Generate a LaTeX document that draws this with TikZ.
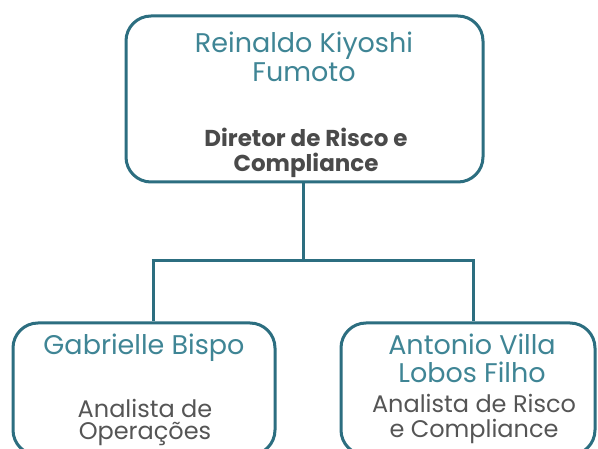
\documentclass[tikz,border=0pt]{standalone}
\usepackage{fontspec}
\setmainfont{Poppins}
\definecolor{edge}{HTML}{2C6E80}
\definecolor{namec}{HTML}{3F8595}
\definecolor{titlec}{HTML}{4A4A4A}
\definecolor{subc}{HTML}{555555}
\begin{document}
\begin{tikzpicture}[x=1pt,y=1pt,
  box/.style={draw=edge,line width=3pt,rounded corners=25pt,inner sep=0pt},
  conn/.style={draw=edge,line width=3pt},
  nametxt/.style={text=namec,font=\fontsize{27}{30}\selectfont,anchor=base,inner sep=0pt},
  titletxt/.style={text=titlec,font=\fontsize{23}{27}\selectfont\bfseries,anchor=base,inner sep=0pt},
  subtxt/.style={text=subc,font=\fontsize{24}{27}\selectfont,anchor=base,inner sep=0pt}]
\useasboundingbox[fill=white] (0,0) rectangle (598,-449);
\begin{scope}
\clip (0,0) rectangle (598,-449);
\node[box,minimum width=357pt,minimum height=166pt] (top) at (304.5,-99) {};
\node[box,minimum width=262pt,minimum height=132pt] (left) at (144,-389) {};
\node[box,minimum width=254pt,minimum height=132pt] (right) at (468,-389) {};
\end{scope}
\coordinate (jc) at (303,-261);
\coordinate (jl) at (153,-261);
\coordinate (jr) at (473,-261);
\draw[conn] (top.south -| jc) -- (jc);
\draw[conn] ([xshift=-1.5pt]jl) -- ([xshift=1.5pt]jr);
\draw[conn] (jl) -- (jl |- left.north);
\draw[conn] (jr) -- (jr |- right.north);
\node[nametxt] (n1a) at (304,-53) {Reinaldo Kiyoshi};
\node[nametxt] (n1b) at (304,-82) {Fumoto};
\node[titletxt] (t1a) at (306,-147) {Diretor de Risco e};
\node[titletxt] (t1b) at (306,-172) {Compliance};
\node[nametxt] (n2) at (144,-355) {Gabrielle Bispo};
\node[subtxt] (t2a) at (145,-418) {Analista de};
\node[subtxt] (t2b) at (145,-440) {Operações};
\node[nametxt] (n3a) at (472,-355) {Antonio Villa};
\node[nametxt] (n3b) at (472,-383) {Lobos Filho};
\node[subtxt] (t3a) at (474,-413) {Analista de Risco};
\node[subtxt] (t3b) at (474,-438) {e Compliance};
\end{tikzpicture}
\end{document}
